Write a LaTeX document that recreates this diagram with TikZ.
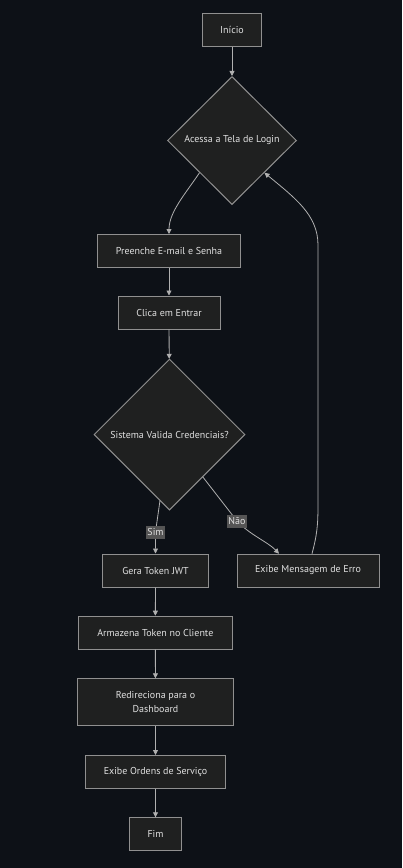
\documentclass[tikz,border=0pt]{standalone}
\usepackage{fontspec}
\setmainfont{PT Sans}
\usetikzlibrary{shapes.geometric,arrows.meta}
\definecolor{bg}{HTML}{0D1117}
\definecolor{nodefill}{HTML}{1F2020}
\definecolor{nodeline}{HTML}{909090}
\definecolor{edge}{HTML}{B0B0B0}
\definecolor{txt}{HTML}{E0E0E0}
\definecolor{lblfill}{HTML}{555555}
\tikzset{
  box/.style={draw=nodeline, fill=nodefill, line width=1pt, text=txt, font=\fontsize{10}{14}\selectfont, inner sep=0pt, align=center},
  dia/.style={diamond, draw=nodeline, fill=nodefill, line width=1pt, text=txt, font=\fontsize{10}{14}\selectfont, inner sep=0pt, aspect=1},
  conn/.style={draw=edge, line width=0.8pt, -{Triangle[length=5pt,width=5pt]}},
  lbl/.style={fill=lblfill, text=txt, font=\fontsize{10}{11}\selectfont, inner sep=1.2pt, minimum height=13pt}
}
\begin{document}
\begin{tikzpicture}[x=1pt,y=-1pt]
\fill[bg] (0,0) rectangle (402,868);
\useasboundingbox (0,0) rectangle (402,868);

\node[box, minimum width=59pt, minimum height=33pt] (inicio) at (232,30) {Início};
\node[dia, minimum width=129pt, minimum height=128pt] (login) at (232,140.5) {Acessa a Tela de Login};
\node[box, minimum width=143pt, minimum height=33pt] (preenche) at (169,251) {Preenche E-mail e Senha};
\node[box, minimum width=102pt, minimum height=33pt] (clica) at (169,312.5) {Clica em Entrar};
\node[dia, minimum width=151pt, minimum height=151pt] (valida) at (169.5,434.5) {Sistema Valida Credenciais?};
\node[box, minimum width=106pt, minimum height=33pt] (gera) at (155.5,570.5) {Gera Token JWT};
\node[box, minimum width=142pt, minimum height=33pt] (erro) at (308,570.5) {Exibe Mensagem de Erro};
\node[box, minimum width=154pt, minimum height=33pt] (armazena) at (155.3,632.7) {Armazena Token no Cliente};
\node[box, minimum width=156pt, minimum height=47pt] (redir) at (155.5,702.3) {Redireciona para o\\Dashboard};
\node[box, minimum width=140pt, minimum height=33pt] (ordens) at (155.5,772) {Exibe Ordens de Serviço};
\node[box, minimum width=52pt, minimum height=33pt] (fim) at (155.5,834.3) {Fim};

\draw[conn] (inicio) -- (login);
\draw[conn] (login.south west) .. controls (186,193) and (169,212) .. (preenche.north);
\draw[conn] (preenche) -- (clica);
\draw[conn] (clica) -- (valida);
\coordinate (simp) at (155.5,532);
\draw[conn] (160,500.5) -- (simp) -- (gera.north);
\node[lbl] (sim) at (simp) {Sim};
\coordinate (naop) at (237,521);
\draw[conn] (202.7,476.8) -- (naop) .. controls (250,535) and (268,542) .. (279,553.7);
\node[lbl] (nao) at (naop) {Não};
\draw[conn] (312,553.7) .. controls (317,535) and (318,525) .. (318,505) -- (318,245) .. controls (318,215) and (295,198) .. (login.south east);

\draw[conn] (gera) -- (armazena);
\draw[conn] (armazena) -- (redir);
\draw[conn] (redir) -- (ordens);
\draw[conn] (ordens) -- (fim);
\end{tikzpicture}
\end{document}
